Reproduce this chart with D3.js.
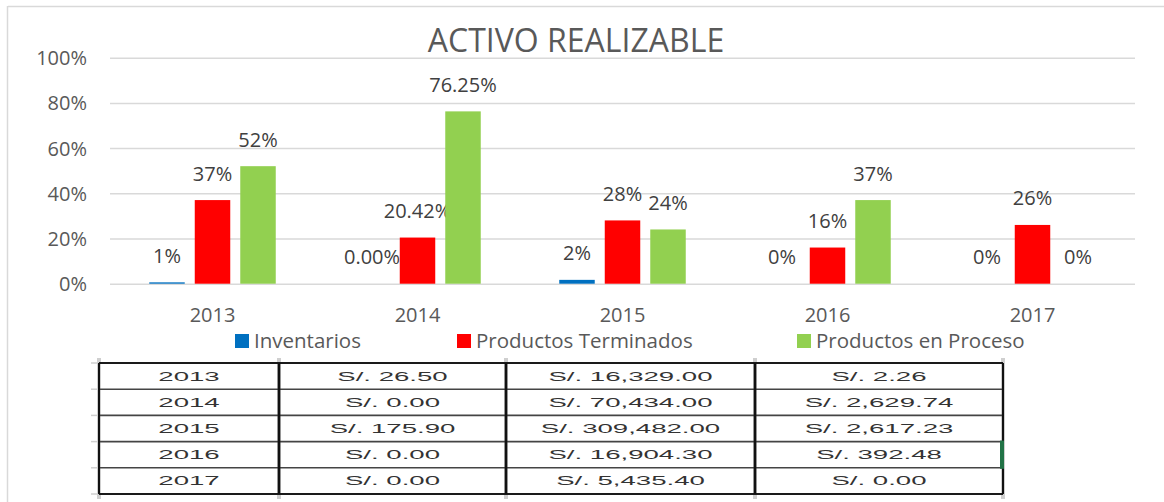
<!DOCTYPE html>
<html>
<head>
<meta charset="utf-8">
<script src="https://d3js.org/d3.v7.min.js"></script>
<style>
  body { margin: 0; background: #fff; }
  svg { display: block; }
</style>
</head>
<body>
<script>
// chart values (share of activo realizable)
var years = ["2013", "2014", "2015", "2016", "2017"];
var seriesNames = ["Inventarios", "Productos Terminados", "Productos en Proceso"];
var inventarios = [0.006, 0, 0.017, 0, 0];
var terminados = [0.37, 0.2042, 0.28, 0.16, 0.26];
var proceso = [0.52, 0.7625, 0.24, 0.37, 0];
// data labels as shown in the sheet
var invLabels = ["1%", "0.00%", "2%", "0%", "0%"];
var termLabels = ["37%", "20.42%", "28%", "16%", "26%"];
var procLabels = ["52%", "76.25%", "24%", "37%", "0%"];
var yTicks = [0, 0.2, 0.4, 0.6, 0.8, 1];

// table amounts (S/.)
var tInventarios = [26.50, 0.00, 175.90, 0.00, 0.00];
var tTerminados = [16329.00, 70434.00, 309482.00, 16904.30, 5435.40];
var tProceso = [2.26, 2629.74, 2617.23, 392.48, 0.00];

var colors = ["#0070C0", "#FF0000", "#92D050"];

var W = 1164, H = 502;
var svg = d3.select("body").append("svg").attr("width", W).attr("height", H);

// chart frame (only top + left edges visible)
svg.append("line").attr("x1", 8).attr("x2", W).attr("y1", 6.5).attr("y2", 6.5)
  .attr("stroke", "#d9d9d9").attr("stroke-width", 1.5);
svg.append("line").attr("x1", 7.5).attr("x2", 7.5).attr("y1", 6).attr("y2", H)
  .attr("stroke", "#d9d9d9").attr("stroke-width", 1.5);

// title
svg.append("text")
  .attr("x", 576).attr("y", 52)
  .attr("text-anchor", "middle")
  .attr("font-family", "Open Sans")
  .attr("font-size", 32)
  .attr("fill", "#595959")
  .text("ACTIVO REALIZABLE");

var plotL = 110, plotR = 1135, plotT = 57.7, plotB = 283.7;

var x0 = d3.scaleBand().domain(years).range([plotL, plotR]);
var groupW = 126.5;
var x1 = d3.scaleBand().domain(seriesNames).range([0, groupW]).paddingInner(0.22);
var y = d3.scaleLinear().domain([0, 1]).range([plotB, plotT]);

// gridlines + y labels
var yAxis = svg.append("g")
  .attr("transform", "translate(" + plotL + ",0)")
  .call(d3.axisLeft(y).tickValues(yTicks).tickFormat(d3.format(".0%"))
    .tickSize(-(plotR - plotL)).tickPadding(23));
yAxis.select(".domain").remove();
yAxis.selectAll(".tick line").attr("stroke", "#d9d9d9").attr("stroke-width", 1.5);
yAxis.selectAll(".tick text")
  .attr("font-family", "Open Sans").attr("font-size", 20).attr("fill", "#595959")
  .attr("dy", "0.35em");

// x labels
var xAxis = svg.append("g")
  .attr("transform", "translate(0," + plotB + ")")
  .call(d3.axisBottom(x0).tickSize(0).tickPadding(24));
xAxis.select(".domain").remove();
xAxis.selectAll(".tick text")
  .attr("font-family", "Open Sans").attr("font-size", 20).attr("fill", "#595959")
  .attr("dy", "0.71em");

var series = [
  { name: seriesNames[0], values: inventarios, labels: invLabels },
  { name: seriesNames[1], values: terminados, labels: termLabels },
  { name: seriesNames[2], values: proceso, labels: procLabels }
];

var groups = svg.selectAll("g.grp").data(years).enter().append("g")
  .attr("class", "grp")
  .attr("transform", function (d) {
    return "translate(" + (x0(d) + (x0.bandwidth() - groupW) / 2) + ",0)";
  });

groups.each(function (yr, i) {
  var g = d3.select(this);
  series.forEach(function (s, k) {
    var v = s.values[i];
    g.append("rect")
      .attr("x", x1(s.name))
      .attr("width", x1.bandwidth())
      .attr("y", y(v))
      .attr("height", plotB - y(v))
      .attr("fill", colors[k]);
    g.append("text")
      .attr("x", x1(s.name) + x1.bandwidth() / 2)
      .attr("y", y(v) - 19.5)
      .attr("text-anchor", "middle")
      .attr("font-family", "Open Sans").attr("font-size", 20)
      .attr("fill", "#404040")
      .text(s.labels[i]);
  });
});

// legend
var legendX = [235, 457, 797];
var legend = svg.selectAll("g.leg").data(seriesNames).enter().append("g")
  .attr("class", "leg")
  .attr("transform", function (d, i) { return "translate(" + legendX[i] + ",334)"; });
legend.append("rect").attr("width", 14).attr("height", 14)
  .attr("fill", function (d, i) { return colors[i]; });
legend.append("text").attr("x", 19).attr("y", 13.5)
  .attr("font-family", "Open Sans").attr("font-size", 20.5).attr("fill", "#595959")
  .text(function (d) { return d; });

// ---- table below chart ----
var colEdges = [99, 279, 506, 755, 1003];
var rowY = d3.scaleBand().domain(years).range([363, 494]);
var tTop = 363, tBottom = 494;
var money = function (v) { return "S/. " + d3.format(",.2f")(v); };

var tbl = svg.append("g");

// faint sheet gridlines peeking around the table
colEdges.forEach(function (cx) {
  tbl.append("line").attr("x1", cx).attr("x2", cx).attr("y1", 358).attr("y2", 499)
    .attr("stroke", "#cfcfcf").attr("stroke-width", 4);
});
var rowEdges = years.map(function (d) { return rowY(d); }).concat([tBottom]);
rowEdges.forEach(function (ry) {
  tbl.append("line").attr("x1", 91).attr("x2", colEdges[0]).attr("y1", ry).attr("y2", ry)
    .attr("stroke", "#cfcfcf").attr("stroke-width", 1.5);
});

// row lines
rowEdges.forEach(function (ry, i) {
  var outer = (i === 0 || i === rowEdges.length - 1);
  tbl.append("line").attr("x1", colEdges[0]).attr("x2", colEdges[4]).attr("y1", ry).attr("y2", ry)
    .attr("stroke", outer ? "#1a1a1a" : "#444")
    .attr("stroke-width", outer ? 2 : 1.6);
});
// column lines
colEdges.forEach(function (cx, i) {
  tbl.append("line").attr("x1", cx).attr("x2", cx).attr("y1", tTop).attr("y2", tBottom)
    .attr("stroke", "#111").attr("stroke-width", (i === 0 || i === 4) ? 2 : 2.6);
});

// selection marker on the right edge
tbl.append("rect").attr("x", 1000).attr("y", rowY("2016") - 1).attr("width", 4).attr("height", rowY.bandwidth() + 2)
  .attr("fill", "#217346");

var cols = [
  years,
  tInventarios.map(money),
  tTerminados.map(money),
  tProceso.map(money)
];
cols.forEach(function (col, c) {
  var cx = (colEdges[c] + colEdges[c + 1]) / 2;
  col.forEach(function (txt, r) {
    tbl.append("text")
      .attr("transform", "translate(" + cx + "," + (rowY(years[r]) + 17.5) + ") scale(2.3,1)")
      .attr("text-anchor", "middle")
      .attr("font-family", "Liberation Sans").attr("font-size", 12)
      .attr("fill", "#333")
      .text(txt);
  });
});
</script>
</body>
</html>
